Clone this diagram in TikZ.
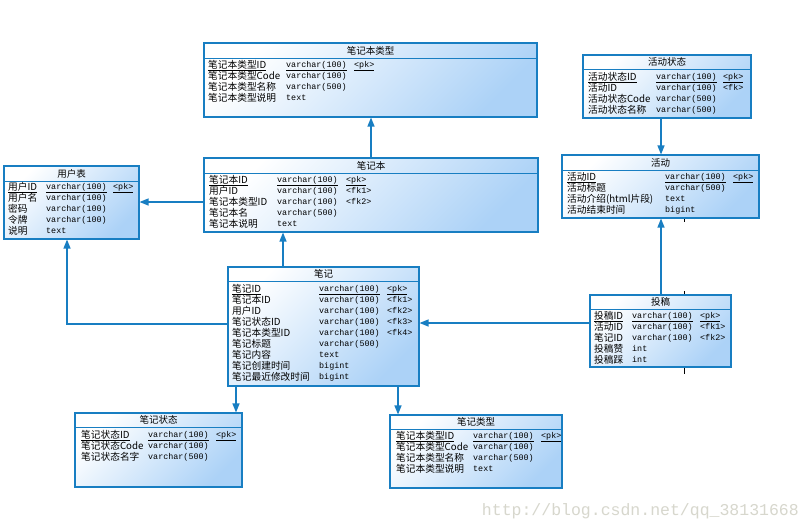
\documentclass[tikz,border=0pt]{standalone}
\usepackage{fontspec}
\setmainfont{Noto Sans CJK SC}
\newfontfamily\wmfont{Liberation Mono}
\newfontfamily\tyfont{Liberation Mono}
\usetikzlibrary{arrows.meta}
\definecolor{erblue}{RGB}{24,126,194}
\definecolor{erfill}{RGB}{172,210,247}
\definecolor{wmgray}{RGB}{215,215,205}
\newcommand\ul[1]{\setbox0\hbox{#1}\rlap{\rule[-2.2pt]{\wd0}{0.6pt}}\box0}
\newcommand\ult[1]{\setbox0\hbox{#1}\rlap{\rule[-2.9pt]{\wd0}{0.6pt}}\box0}
\tikzset{
  erbox/.style={draw=erblue, line width=1.1pt, top color=white, bottom color=erfill, shading angle=45, inner sep=0pt, rectangle},
  sepline/.style={draw=erblue, line width=1pt},
  ttl/.style={font=\fontsize{9.5}{11}\selectfont, inner sep=0pt},
  ncell/.style={font=\fontsize{9.7}{11}\selectfont, anchor=base west, inner sep=0pt},
  tcell/.style={font=\tyfont\fontsize{8.4}{11}\selectfont, anchor=base west, inner sep=0pt},
  link/.style={draw=erblue, line width=1.3pt, -{Triangle[width=7pt,length=9pt]}},
  tick/.style={draw=black, line width=1pt},
}
% #1 name, #2 left, #3 top, #4 right, #5 bottom, #6 separator y, #7 title
\newcommand\erbox[7]{%
  \node[erbox, minimum width={(#4-#2)*1pt}, minimum height={(#5-#3)*1pt}] (#1) at ({(#2+#4)/2},{(#3+#5)/2}) {};
  \draw[sepline] (#2,#6) -- (#4,#6);
  \node[ttl] (#1-title) at ({(#2+#4)/2},{(#3+#6)/2}) {#7};
}
% #1 y, #2 x name, #3 name, #4 x type, #5 type, #6 x key, #7 key
\newcommand\errow[7]{%
  \node[ncell] at (#2,#1+3.5) {#3};
  \node[tcell] at (#4,#1+2.8) {#5};
  \node[tcell] at (#6,#1+2.8) {#7};
}
\begin{document}
\begin{tikzpicture}[x=1pt,y=-1pt]
\fill[white] (0,0) rectangle (811,531);
\useasboundingbox (0,0) rectangle (811,531);

% ---------- 笔记本类型
\erbox{nbt}{204}{43}{537}{117}{58}{笔记本类型}
\errow{65}{208}{\ul{笔记本类型ID}}{286}{\ult{varchar(100)}}{354}{\ult{<pk>}}
\errow{76}{208}{笔记本类型Code}{286}{varchar(100)}{354}{}
\errow{87}{208}{笔记本类型名称}{286}{varchar(500)}{354}{}
\errow{98}{208}{笔记本类型说明}{286}{text}{354}{}

% ---------- 用户表
\erbox{user}{4}{166}{139}{239}{181}{用户表}
\errow{187}{8}{\ul{用户ID}}{46}{\ult{varchar(100)}}{113}{\ult{<pk>}}
\errow{198}{8}{用户名}{46}{varchar(100)}{113}{}
\errow{209}{8}{密码}{46}{varchar(100)}{113}{}
\errow{220}{8}{令牌}{46}{varchar(100)}{113}{}
\errow{231}{8}{说明}{46}{text}{113}{}

% ---------- 笔记本
\erbox{nb}{204}{158}{538}{232}{173}{笔记本}
\errow{180}{209}{\ul{笔记本ID}}{277}{\ult{varchar(100)}}{346}{\ult{<pk>}}
\errow{191}{209}{用户ID}{277}{varchar(100)}{346}{<fk1>}
\errow{202}{209}{笔记本类型ID}{277}{varchar(100)}{346}{<fk2>}
\errow{213}{209}{笔记本名}{277}{varchar(500)}{346}{}
\errow{224}{209}{笔记本说明}{277}{text}{346}{}

% ---------- 活动状态
\erbox{hdzt}{583}{55}{751}{118}{69}{活动状态}
\errow{77}{588}{\ul{活动状态ID}}{656}{\ult{varchar(100)}}{723}{\ult{<pk>}}
\errow{88}{588}{活动ID}{656}{varchar(100)}{723}{<fk>}
\errow{99}{588}{活动状态Code}{656}{varchar(500)}{723}{}
\errow{110}{588}{活动状态名称}{656}{varchar(500)}{723}{}

% ---------- 活动
\erbox{hd}{562}{155}{759}{218}{170}{活动}
\errow{177}{567}{\ul{活动ID}}{665}{\ult{varchar(100)}}{733}{\ult{<pk>}}
\errow{188}{567}{活动标题}{665}{varchar(500)}{733}{}
\errow{199}{567}{活动介绍(html片段)}{665}{text}{733}{}
\errow{210}{567}{活动结束时间}{665}{bigint}{733}{}

% ---------- 笔记
\erbox{bj}{228}{267}{419}{386}{281}{笔记}
\errow{289}{232}{\ul{笔记ID}}{319}{\ult{varchar(100)}}{387}{\ult{<pk>}}
\errow{300}{232}{笔记本ID}{319}{varchar(100)}{387}{<fk1>}
\errow{311}{232}{用户ID}{319}{varchar(100)}{387}{<fk2>}
\errow{322}{232}{笔记状态ID}{319}{varchar(100)}{387}{<fk3>}
\errow{333}{232}{笔记本类型ID}{319}{varchar(100)}{387}{<fk4>}
\errow{344}{232}{笔记标题}{319}{varchar(500)}{387}{}
\errow{355}{232}{笔记内容}{319}{text}{387}{}
\errow{366}{232}{笔记创建时间}{319}{bigint}{387}{}
\errow{377}{232}{笔记最近修改时间}{319}{bigint}{387}{}

% ---------- 投稿
\erbox{tg}{590}{295}{731}{367}{309}{投稿}
\errow{316}{594}{\ul{投稿ID}}{632}{\ult{varchar(100)}}{700}{\ult{<pk>}}
\errow{327}{594}{活动ID}{632}{varchar(100)}{700}{<fk1>}
\errow{338}{594}{笔记ID}{632}{varchar(100)}{700}{<fk2>}
\errow{349}{594}{投稿赞}{632}{int}{700}{}
\errow{360}{594}{投稿踩}{632}{int}{700}{}

% ---------- 笔记状态
\erbox{bjzt}{75}{413}{242}{487}{427}{笔记状态}
\errow{435}{81}{\ul{笔记状态ID}}{148}{\ult{varchar(100)}}{216}{\ult{<pk>}}
\errow{446}{81}{笔记状态Code}{148}{varchar(100)}{216}{}
\errow{457}{81}{笔记状态名字}{148}{varchar(500)}{216}{}

% ---------- 笔记类型
\erbox{bjlx}{390}{415}{562}{488}{429}{笔记类型}
\errow{436}{396}{\ul{笔记本类型ID}}{473}{\ult{varchar(100)}}{541}{\ult{<pk>}}
\errow{447}{396}{笔记本类型Code}{473}{varchar(100)}{541}{}
\errow{458}{396}{笔记本类型名称}{473}{varchar(500)}{541}{}
\errow{469}{396}{笔记本类型说明}{473}{text}{541}{}

% ---------- helper coordinates
\coordinate (x67) at (67,0);
\coordinate (x236) at (236,0);
\coordinate (x283) at (283,0);
\coordinate (x398) at (398,0);
\coordinate (x661) at (661,0);
\coordinate (y202) at (0,202);
\coordinate (y324) at (0,324);
\coordinate (y323) at (0,323);

% ---------- connectors
\draw[link] (nb.north) -- (nb.north |- nbt.south);
\draw[link] (nb.west |- y202) -- (user.east |- y202);
\draw[link] (bj.north -| x283) -- (nb.south -| x283);
\draw[link] (bj.west |- y324) -| (user.south -| x67);
\draw[link] (bj.south -| x236) -- (bjzt.north -| x236);
\draw[link] (bj.south -| x398) -- (bjlx.north -| x398);
\draw[link] (tg.west |- y323) -- (bj.east |- y323);
\draw[link] (tg.north -| x661) -- (hd.south -| x661);
\draw[link] (hdzt.south -| x661) -- (hd.north -| x661);

% small marks
\draw[tick] (684,219) -- (684,222);
\draw[tick] (684,291) -- (684,294);
\draw[tick] (684,368) -- (684,374);

% watermark
\node[font=\wmfont\fontsize{16.5}{18}\selectfont, text=wmgray, anchor=east, inner sep=0pt] (wm) at (799,511) {http://blog.csdn.net/qq\_38131668};
\end{tikzpicture}
\end{document}
